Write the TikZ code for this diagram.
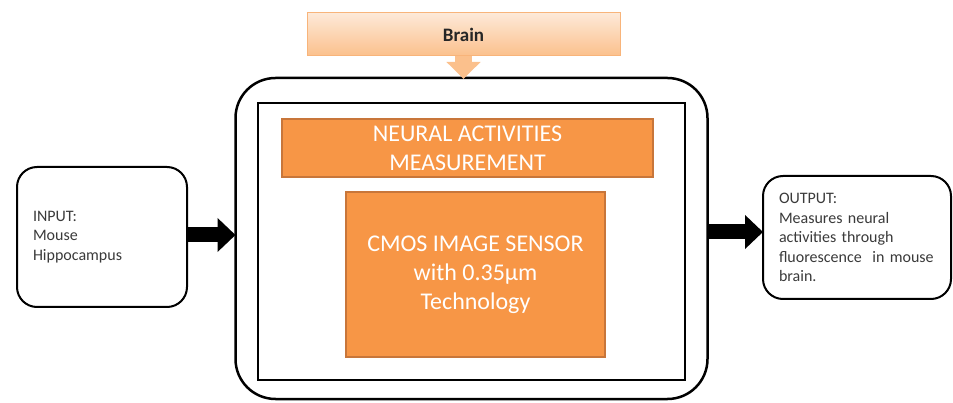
\documentclass[tikz,border=0pt]{standalone}
\usepackage{fontspec}
\setmainfont{Carlito}
\usetikzlibrary{arrows.meta}
\definecolor{accent}{HTML}{F79646}
\definecolor{accentline}{HTML}{C8763A}
\definecolor{paletop}{HTML}{FDE9D8}
\definecolor{palebot}{HTML}{FBC08C}
\definecolor{paleline}{HTML}{F8B47A}
\definecolor{bodytext}{HTML}{3A3A3A}
\tikzset{
  pale/.style={draw=paleline, line width=1pt, top color=paletop, bottom color=palebot, inner sep=0pt, outer sep=0pt},
  orangebox/.style={draw=accentline, line width=1.5pt, fill=accent, text=white, inner sep=0pt, outer sep=0pt, align=center,
    font=\fontsize{24}{29}\selectfont},
  sidebox/.style={draw=black, line width=2pt, rounded corners=20pt, fill=white, outer sep=0pt, inner ysep=0pt,
    inner xsep=16pt, align=left, text=bodytext, font=\fontsize{16}{19.5}\selectfont},
  fatarrow/.style={line width=15pt, -{Triangle[length=18pt,width=33pt]}, black},
}
\begin{document}
\begin{tikzpicture}[x=1pt,y=-1pt]
\useasboundingbox (0,0) rectangle (953,403);

% central unit
\node[draw=black, line width=2.5pt, rounded corners=40pt, minimum width=472pt, minimum height=321pt, inner sep=0pt, outer sep=0pt]
  (outer) at (471.5,238.5) {};
\node[draw=black, line width=2pt, minimum width=427pt, minimum height=277pt, inner sep=0pt, outer sep=0pt]
  (inner) at (471.5,241.5) {};
\node[orangebox, minimum width=371pt, minimum height=58pt] (neural) at (467.5,148) {NEURAL ACTIVITIES\\MEASUREMENT};
\node[orangebox, minimum width=259pt, minimum height=165pt] (cmos) at (475.5,274.5) {CMOS IMAGE SENSOR\\with 0.35µm\\Technology};

% brain source
\node[pale, minimum width=313pt, minimum height=43pt, font=\fontsize{19}{21}\selectfont\bfseries, text=black!85]
  (brain) at (463.5,34.5) {Brain};
\draw[line width=17pt, palebot, -{Triangle[length=17pt,width=33pt]}, shorten >=-1pt]
  (brain.south) -- (brain.south |- outer.north);

% input and output
\node[sidebox, minimum width=170pt, minimum height=140pt, text width=138pt] (input) at (102,237)
  {INPUT:\\Mouse\\Hippocampus};
\node[sidebox, minimum width=188pt, minimum height=123pt, text width=156pt] (output) at (857,237.5)
  {OUTPUT:\\\mbox{Measures neural}\\\mbox{activities through}\\\mbox{fluorescence\ \ in mouse}\\brain.};

\coordinate (inpoint) at (outer.west |- 0,235);
\coordinate (outstart) at (outer.east |- 0,232);
\coordinate (outpoint) at (output.west |- 0,232);
\draw[fatarrow] (input.east |- inpoint) -- (inpoint);
\draw[fatarrow] (outstart) -- (outpoint);
\end{tikzpicture}
\end{document}
